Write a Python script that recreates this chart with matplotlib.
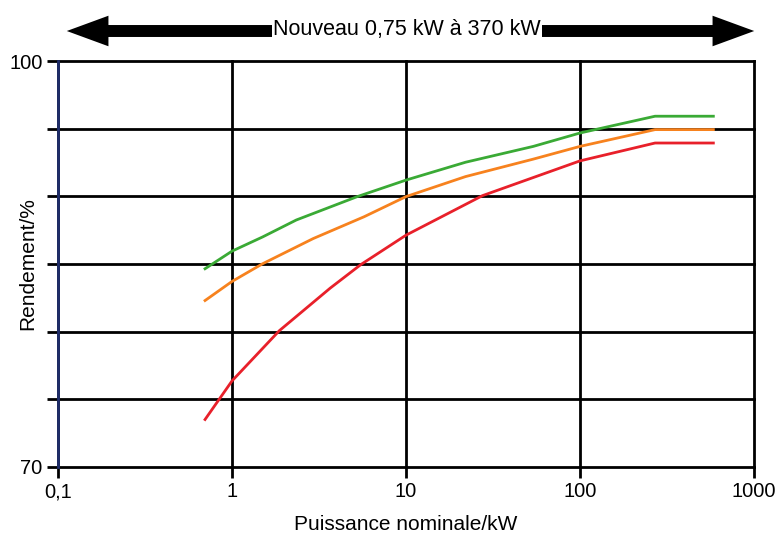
import matplotlib.pyplot as plt
from matplotlib.patches import FancyArrowPatch

plt.rcParams['font.family'] = ['Liberation Sans', 'DejaVu Sans']

# Data (power in kW, efficiency in %)
power_green = [0.70, 1.0, 1.50, 2.34, 5.25, 10, 22.0, 53.9, 100, 270, 584]
eff_green = [84.65, 85.95, 87.0, 88.25, 89.98, 91.2, 92.52, 93.69, 94.68, 95.92, 95.92]

power_orange = [0.70, 1.0, 1.50, 2.93, 5.74, 10, 22.0, 53.9, 100, 270, 584]
eff_orange = [82.3, 83.71, 85.02, 86.88, 88.49, 89.98, 91.46, 92.75, 93.69, 94.93, 94.93]

power_red = [0.70, 1.0, 1.87, 3.67, 5.49, 10, 27.5, 53.9, 100, 270, 584]
eff_red = [73.51, 76.36, 80.07, 83.22, 84.95, 87.13, 90.05, 91.39, 92.62, 93.94, 93.94]

x_ticks = [0.1, 1, 10, 100, 1000]
x_labels = ['0,1', '1', '10', '100', '1000']
y_ticks = [70, 75, 80, 85, 90, 95, 100]
y_labels = ['70', '', '', '', '', '', '100']

arrow_text = 'Nouveau 0,75 kW à 370 kW'

fig = plt.figure(figsize=(7.77, 5.36), dpi=100)
ax = fig.add_axes([58 / 777, 1 - 467 / 536, 696 / 777, 406 / 536])

# Curves
ax.plot(power_red, eff_red, color='#e8202a', lw=2, zorder=4)
ax.plot(power_orange, eff_orange, color='#f7821e', lw=2, zorder=4)
ax.plot(power_green, eff_green, color='#3aaa35', lw=2, zorder=4)

ax.set_xscale('log')
ax.set_xlim(0.1, 1000)
ax.set_ylim(70, 100)
ax.set_xticks(x_ticks)
ax.set_xticklabels(x_labels)
ax.minorticks_off()
ax.set_yticks(y_ticks)
ax.set_yticklabels(y_labels)
ax.tick_params(axis='both', length=8, width=2, color='black', labelsize=14.5, pad=3)

ax.grid(True, color='black', lw=2)
for gl in ax.get_xgridlines() + ax.get_ygridlines():
    gl.set_clip_on(False)

for side in ['top', 'right', 'bottom']:
    ax.spines[side].set_visible(False)
ax.spines['left'].set_color('#1f2d6b')
ax.spines['left'].set_linewidth(2)
ax.spines['left'].set_zorder(3)

ax.set_xlabel('Puissance nominale/kW', fontsize=15)
ax.set_ylabel('Rendement/%', fontsize=15)
ax.xaxis.set_label_coords(0.5, -(525 - 467) / 406, transform=ax.transAxes)
ax.yaxis.set_label_coords(-(58 - 28) / 696, 0.5, transform=ax.transAxes)
ax.xaxis.label.set_va('center')
ax.yaxis.label.set_va('center')

# Double-headed range arrow on top, drawn as two arrows from the middle
mid = (410 / 777, 1 - 31 / 536)
style = 'simple,head_length=30,head_width=22,tail_width=8.6'
for end in [(64 / 777, 1 - 31 / 536), (757 / 777, 1 - 31 / 536)]:
    fig.patches.append(FancyArrowPatch(mid, end, transform=fig.transFigure,
                                       arrowstyle=style, mutation_scale=1,
                                       color='black', lw=0))
fig.text(407 / 777, 1 - 30 / 536, arrow_text, fontsize=15.5, ha='center', va='center',
         bbox=dict(facecolor='white', edgecolor='none', pad=1))

fig.savefig('out.png', dpi=100)
